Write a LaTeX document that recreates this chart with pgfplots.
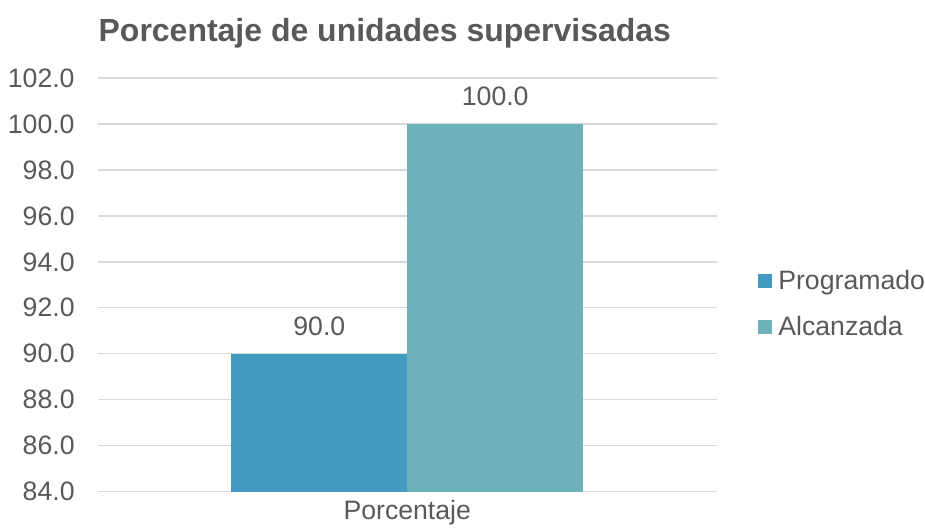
\documentclass[border=0pt]{standalone}
\usepackage{fontspec}
\setmainfont{Liberation Sans}
\usepackage{pgfplots}
\pgfplotsset{compat=1.18}
\definecolor{txt}{HTML}{595959}
\definecolor{grd}{HTML}{D9D9D9}
\definecolor{prog}{HTML}{439BC1}
\definecolor{alc}{HTML}{6EB1B9}
\begin{document}
\begin{tikzpicture}
\begin{axis}[
    name=ax,
    at={(0,0)},
    anchor=south west,
    scale only axis,
    width=464.25pt,
    height=310.5pt,
    ybar=0pt,
    bar width=132pt,
    xmin=-0.5, xmax=0.5,
    ymin=84, ymax=102,
    xtick={0},
    xticklabels={Porcentaje},
    ytick={84,86,...,102},
    axis line style={draw=none},
    major tick length=0pt,
    ymajorgrids,
    grid style={grd, line width=1pt},
    tick label style={font=\fontsize{20}{24}\selectfont, text=txt},
    /pgf/number format/.cd, fixed, fixed zerofill, precision=1, assume math mode=true,
    /pgfplots/.cd,
    yticklabel style={xshift=-14pt},
    xticklabel style={yshift=-3pt},
    nodes near coords,
    every node near coord/.append style={font=\fontsize{20}{24}\selectfont, text=txt, anchor=base, yshift=13.5pt},
    clip=false,
    legend style={
        at={(1.066,0.454)}, anchor=west, draw=none,
        font=\fontsize{20}{24}\selectfont, text=txt,
        row sep=19pt, inner sep=0pt,
        nodes={inner sep=0pt},
        /tikz/every odd column/.append style={column sep=5pt}
    },
    legend cell align=left,
    legend image code/.code={\fill[#1] (0pt,-5.25pt) rectangle (10.5pt,5.25pt);},
]
\addplot[fill=prog, draw=none] coordinates {(0,90)};
\addplot[fill=alc, draw=none] coordinates {(0,100)};
\legend{Programado, Alcanzada}
\node[anchor=base, font=\fontsize{24}{28}\selectfont\bfseries, text=txt]
    at ([yshift=27pt]axis description cs:0.4637,1) {Porcentaje de unidades supervisadas};
\end{axis}
\path (-73.5pt,-24.75pt) rectangle (620.25pt,369pt);
\end{tikzpicture}
\end{document}
